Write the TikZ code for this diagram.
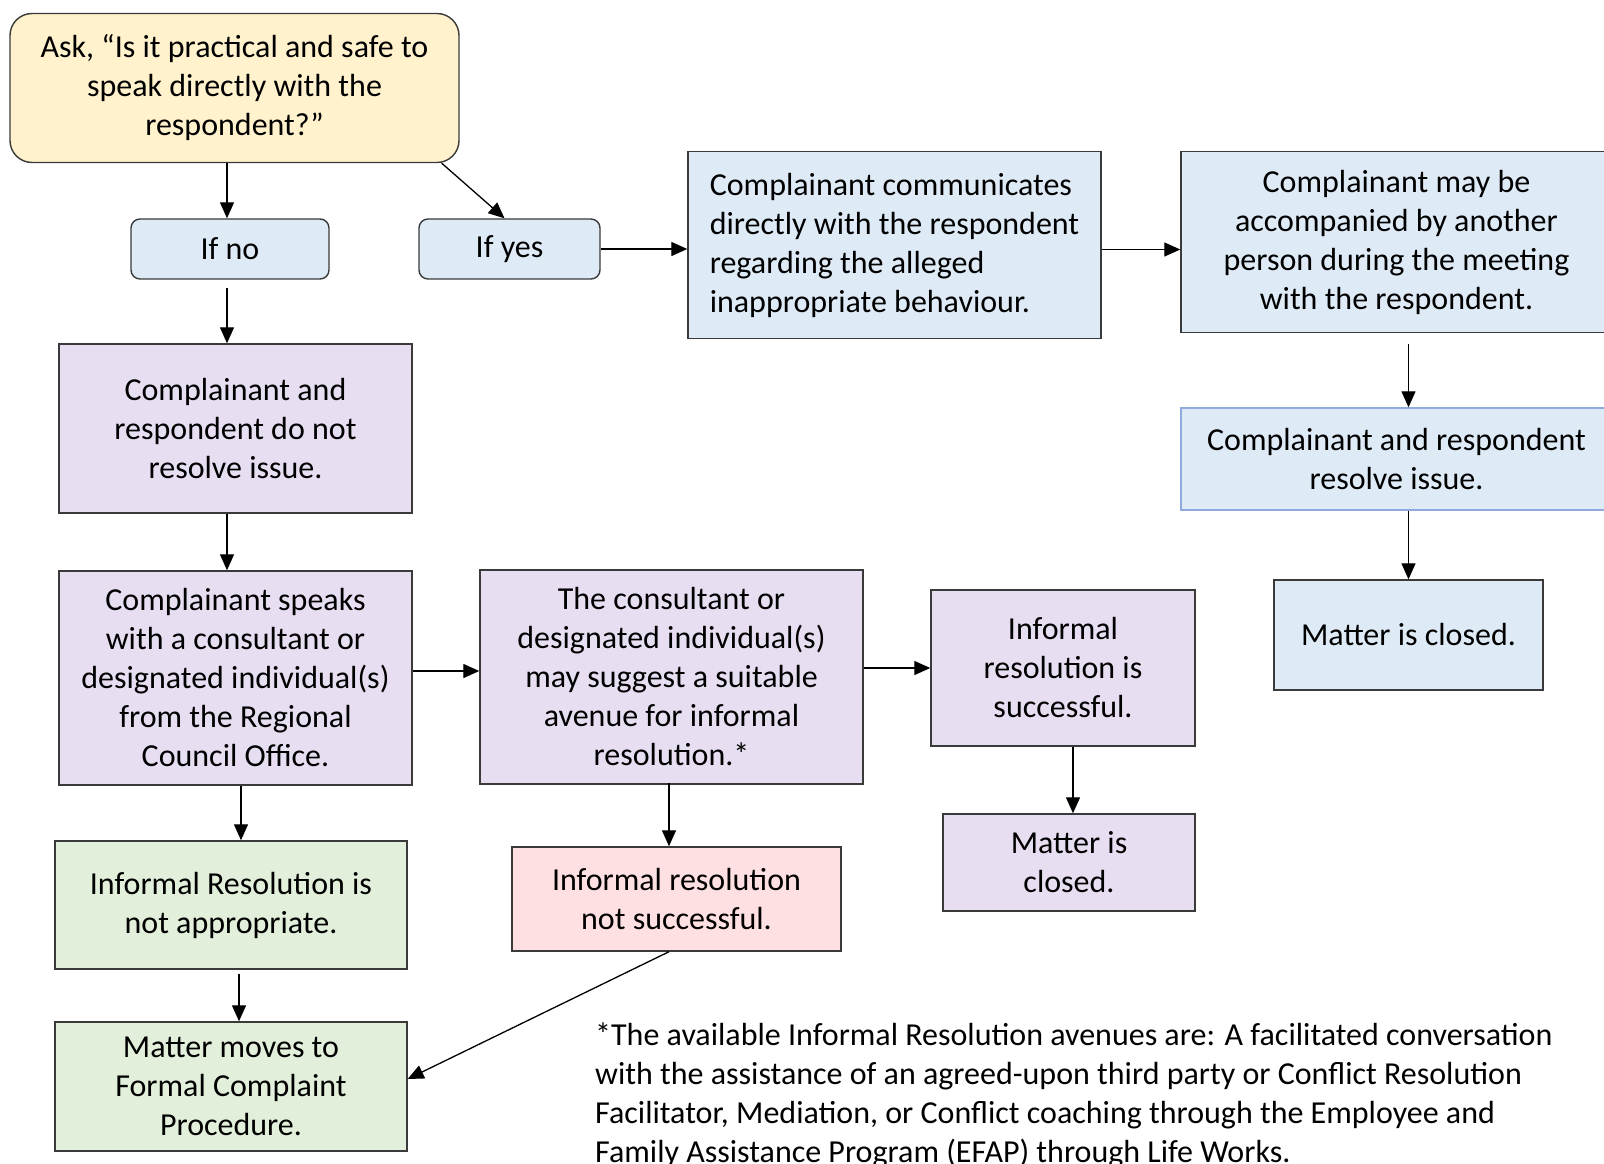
\documentclass[tikz,border=0pt]{standalone}
\usepackage{fontspec}
\setmainfont{Carlito}
\usetikzlibrary{arrows.meta,calc}

\definecolor{askfill}{HTML}{FFF2CC}
\definecolor{bluefill}{HTML}{DEEBF7}
\definecolor{purplefill}{HTML}{E8DEF2}
\definecolor{greenfill}{HTML}{E2EFDA}
\definecolor{pinkfill}{HTML}{FFE0E2}
\definecolor{boxline}{HTML}{3A3A3A}
\definecolor{lightline}{HTML}{8FAADC}

\tikzset{flowchart/.style={x=1pt,y=-1pt,font=\fontsize{32}{39}\selectfont},
  flowbox/.style={draw=boxline,line width=1.4pt,rectangle,inner sep=0pt,align=center},
  askbox/.style={flowbox,rounded corners=22pt,fill=askfill},
  bluebox/.style={flowbox,fill=bluefill},
  purplebox/.style={flowbox,fill=purplefill},
  greenbox/.style={flowbox,fill=greenfill},
  pinkbox/.style={flowbox,fill=pinkfill},
  flowarrow/.style={line width=1.3pt,-{Triangle[length=16pt,width=14pt]}}}

\begin{document}
\begin{tikzpicture}[flowchart]

\useasboundingbox (0,0) rectangle (1604,1164);

% top row
\node[askbox,minimum width=449pt,minimum height=149pt] (ask) at (234.5,88)
  {Ask, “Is it practical and safe to\\ speak directly with the\\ respondent?”};
\node[bluebox,rounded corners=9pt,minimum width=198pt,minimum height=60pt] (ifno) at (230,249) {If no};
\node[bluebox,rounded corners=9pt,minimum width=181pt,minimum height=60pt] (ifyes) at (509.5,249) {If yes};
\node[bluebox,align=left,minimum width=413pt,minimum height=187pt] (comm) at (894.5,245)
  {Complainant communicates\\ directly with the respondent\\ regarding the alleged\\ inappropriate behaviour.};
\node[bluebox,minimum width=431pt,minimum height=181pt] (accomp) at (1396.5,242)
  {Complainant may be\\ accompanied by another\\ person during the meeting\\ with the respondent.};
\node[bluebox,draw=lightline,minimum width=431pt,minimum height=102pt] (resolve) at (1396.5,459)
  {Complainant and respondent\\ resolve issue.};
\node[bluebox,minimum width=269pt,minimum height=110pt] (closedb) at (1408.5,635) {Matter is closed.};

% left column
\node[purplebox,minimum width=353pt,minimum height=169pt] (notres) at (235.5,428.5)
  {Complainant and\\ respondent do not\\ resolve issue.};
\node[purplebox,minimum width=353pt,minimum height=214pt] (speaks) at (235.5,678)
  {Complainant speaks\\ with a consultant or\\ designated individual(s)\\ from the Regional\\ Council Office.};
\node[purplebox,minimum width=383pt,minimum height=214pt] (consult) at (671.5,677)
  {The consultant or\\ designated individual(s)\\ may suggest a suitable\\ avenue for informal\\ resolution.*};
\node[purplebox,minimum width=264pt,minimum height=156pt] (success) at (1063,668)
  {Informal\\ resolution is\\ successful.};
\node[purplebox,minimum width=252pt,minimum height=97pt] (closedp) at (1069,862.5)
  {Matter is\\ closed.};
\node[greenbox,minimum width=352pt,minimum height=128pt] (approp) at (231,905)
  {Informal Resolution is\\ not appropriate.};
\node[pinkbox,minimum width=329pt,minimum height=104pt] (notsucc) at (676.5,899)
  {Informal resolution\\ not successful.};
\node[greenbox,minimum width=352pt,minimum height=129pt] (moves) at (231,1086.5)
  {Matter moves to\\ Formal Complaint\\ Procedure.};

% footnote
\node[anchor=north west,inner sep=0pt,align=left] (note) at (595,1023)
  {*The available Informal Resolution avenues are: A facilitated conversation\\
   with the assistance of an agreed-upon third party or Conflict Resolution\\
   Facilitator, Mediation, or Conflict coaching through the Employee and\\
   Family Assistance Program (EFAP) through Life Works.};

% connectors
\draw[flowarrow] ([xshift=-3pt]ask.south -| ifno.north) -- ([xshift=-3pt]ifno.north);
\draw[flowarrow] ([xshift=-18pt]ask.south east) -- ([xshift=-5pt]ifyes.north);
\draw[flowarrow] (ifyes.east) -- (ifyes.east -| comm.west);
\draw[flowarrow] ([yshift=-4.5pt]comm.east) -- ([yshift=-4.5pt]comm.east -| accomp.west);
\draw[flowarrow] ([xshift=12pt,yshift=-11pt]accomp.south) -- ([xshift=12pt]resolve.north);
\draw[flowarrow] (resolve.south -| closedb.north) -- (closedb.north);
\draw[flowarrow] ([xshift=-3pt,yshift=-8pt]ifno.south) -- ([xshift=-3pt]ifno.south |- notres.north);
\draw[flowarrow] ([xshift=-8.5pt]notres.south) -- ([xshift=-8.5pt]speaks.north);
\draw[flowarrow] ([yshift=7pt]speaks.east) -- ([yshift=7pt]speaks.east -| consult.west);
\draw[flowarrow] (success.west -| consult.east) -- (success.west);
\draw[flowarrow] ([xshift=10pt]success.south) -- ([xshift=10pt]success.south |- closedp.north);
\draw[flowarrow] ([xshift=5.5pt]speaks.south) -- ([xshift=5.5pt]speaks.south |- approp.north);
\draw[flowarrow] ([xshift=-2.5pt,yshift=2pt]consult.south) -- ([xshift=-2.5pt]consult.south |- notsucc.north);
\draw[flowarrow] ([xshift=8pt,yshift=-4pt]approp.south) -- ([xshift=8pt]approp.south |- moves.north);
\draw[flowarrow] ([xshift=-7.5pt]notsucc.south) -- ([yshift=7.5pt]moves.east);

\end{tikzpicture}
\end{document}
